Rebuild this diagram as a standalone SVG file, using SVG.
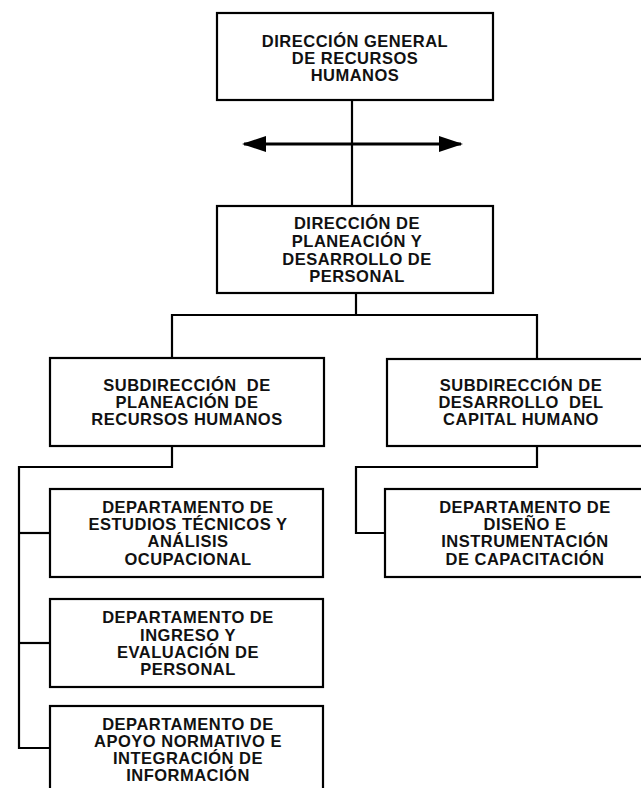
<svg xmlns="http://www.w3.org/2000/svg" width="641" height="788" viewBox="0 0 641 788">
<style>
.box{fill:#fff;stroke:#000;stroke-width:2.2}
.ln{fill:none;stroke:#000;stroke-width:2.2}
text{font-family:"Liberation Sans",Arial,sans-serif;font-weight:bold;font-size:16.5px;letter-spacing:0.5px;text-anchor:middle;fill:#111}
</style>
<defs>
<marker id="ah" viewBox="0 0 24 16" refX="22" refY="8" markerWidth="24" markerHeight="16" markerUnits="userSpaceOnUse" orient="auto-start-reverse">
<path d="M0,0 L24,8 L0,16 Z" fill="#000"/>
</marker>
</defs>
<rect width="641" height="788" fill="#fff"/>
<g id="connectors">
<line class="ln" x1="352" y1="100" x2="352" y2="206"/>
<line x1="244" y1="144" x2="461" y2="144" stroke="#000" stroke-width="3" marker-start="url(#ah)" marker-end="url(#ah)"/>
<polyline class="ln" points="356,293 356,315"/>
<polyline class="ln" points="172,358 172,315 537,315 537,359"/>
<polyline class="ln" points="172,446 172,467 19,467 19,748 50,748"/>
<line class="ln" x1="19" y1="533" x2="50" y2="533"/>
<line class="ln" x1="19" y1="643" x2="50" y2="643"/>
<polyline class="ln" points="537,446 537,467 356,467 356,533 385,533"/>
</g>
<g id="n1">
<rect class="box" x="217" y="13" width="276" height="87"/>
<text x="355" y="47">DIRECCIÓN GENERAL</text>
<text x="355" y="64">DE RECURSOS</text>
<text x="355" y="81">HUMANOS</text>
</g>
<g id="n2">
<rect class="box" x="217" y="206" width="276" height="87"/>
<text x="357" y="229">DIRECCIÓN DE</text>
<text x="357" y="247">PLANEACIÓN Y</text>
<text x="357" y="265">DESARROLLO DE</text>
<text x="357" y="282">PERSONAL</text>
</g>
<g id="n3">
<rect class="box" x="50" y="358" width="274" height="88"/>
<text x="187" y="391">SUBDIRECCIÓN&#160; DE</text>
<text x="187" y="408">PLANEACIÓN DE</text>
<text x="187" y="425">RECURSOS HUMANOS</text>
</g>
<g id="n4">
<rect class="box" x="387" y="359" width="268" height="87"/>
<text x="521" y="391">SUBDIRECCIÓN DE</text>
<text x="521" y="408">DESARROLLO&#160; DEL</text>
<text x="521" y="425">CAPITAL HUMANO</text>
</g>
<g id="n5">
<rect class="box" x="50" y="489" width="273" height="88"/>
<text x="188" y="513">DEPARTAMENTO DE</text>
<text x="188" y="530">ESTUDIOS TÉCNICOS Y</text>
<text x="188" y="547">ANÁLISIS</text>
<text x="188" y="565">OCUPACIONAL</text>
</g>
<g id="n6">
<rect class="box" x="50" y="599" width="273" height="88"/>
<text x="188" y="623">DEPARTAMENTO DE</text>
<text x="188" y="641">INGRESO Y</text>
<text x="188" y="658">EVALUACIÓN DE</text>
<text x="188" y="675">PERSONAL</text>
</g>
<g id="n7">
<rect class="box" x="50" y="706" width="273" height="100"/>
<text x="188" y="730">DEPARTAMENTO DE</text>
<text x="188" y="747">APOYO NORMATIVO E</text>
<text x="188" y="764">INTEGRACIÓN DE</text>
<text x="188" y="781">INFORMACIÓN</text>
</g>
<g id="n8">
<rect class="box" x="385" y="489" width="280" height="88"/>
<text x="525" y="513">DEPARTAMENTO DE</text>
<text x="525" y="530">DISEÑO E</text>
<text x="525" y="547">INSTRUMENTACIÓN</text>
<text x="525" y="565">DE CAPACITACIÓN</text>
</g>
</svg>
